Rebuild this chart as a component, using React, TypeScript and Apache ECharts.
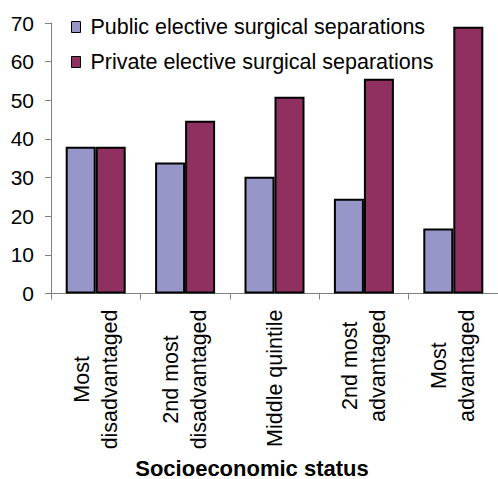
import React, { useEffect, useRef } from "react";
import * as echarts from "echarts";

const categories = [
  "Most\ndisadvantaged",
  "2nd most\ndisadvantaged",
  "Middle quintile",
  "2nd most\nadvantaged",
  "Most\nadvantaged",
];
const publicValues = [38, 33.9, 30.2, 24.5, 16.8];
const privateValues = [38, 44.7, 50.9, 55.6, 69];
const seriesNames = ["Public elective surgical separations", "Private elective surgical separations"];
const yTicks = { min: 0, max: 70, interval: 10 };
const xTitle = "Socioeconomic status";

const FONT = "'Liberation Sans', Arial, sans-serif";

export default function App() {
  const ref = useRef<HTMLDivElement>(null);
  useEffect(() => {
    if (!ref.current) return;
    const chart = echarts.init(ref.current, undefined, { renderer: "svg" });
    chart.setOption({
      animation: false,
      backgroundColor: "#ffffff",
      textStyle: { fontFamily: FONT },
      grid: { left: 51, top: 23, width: 450, height: 270.5 },
      legend: {
        orient: "vertical",
        left: 66,
        top: 11,
        itemGap: 13,
        itemWidth: 9,
        itemHeight: 11,
        icon: "rect",
        data: seriesNames,
        textStyle: { fontSize: 21.5, color: "#000", fontFamily: FONT, padding: [0, 0, 0, 5] },
        itemStyle: { borderColor: "#000", borderWidth: 1 },
      },
      xAxis: {
        type: "category",
        data: categories,
        axisLine: { lineStyle: { color: "#808080", width: 1 } },
        axisTick: { show: true, length: 6, lineStyle: { color: "#808080" } },
        axisLabel: {
          rotate: 90,
          margin: 16,
          interval: 0,
          formatter: (v: string) => v.split("\n").map((s) => `{a|${s}}`).join("\n"),
          rich: {
            a: { align: "center", fontSize: 21.5, lineHeight: 28, color: "#000", fontFamily: FONT },
          },
        },
      },
      yAxis: {
        type: "value",
        min: yTicks.min,
        max: yTicks.max,
        interval: yTicks.interval,
        splitLine: { show: false },
        axisLine: { show: true, lineStyle: { color: "#808080", width: 1 } },
        axisTick: { show: true, length: 6, lineStyle: { color: "#808080" } },
        axisLabel: { fontSize: 21, color: "#000", margin: 17, fontFamily: FONT },
      },
      graphic: [
        {
          type: "text",
          x: 252,
          y: 468,
          style: {
            text: xTitle,
            fontSize: 22,
            fontWeight: "bold",
            fontFamily: FONT,
            fill: "#000",
            align: "center",
            verticalAlign: "middle",
          },
        },
      ],
      series: [
        {
          name: seriesNames[0],
          type: "bar",
          data: publicValues,
          barWidth: 30,
          barGap: "0%",
          itemStyle: { color: "#9696C9", borderColor: "#000", borderWidth: 2 },
        },
        {
          name: seriesNames[1],
          type: "bar",
          data: privateValues,
          barWidth: 30,
          barGap: "0%",
          itemStyle: { color: "#8F3060", borderColor: "#000", borderWidth: 2 },
        },
      ],
    });
    return () => chart.dispose();
  }, []);
  return (
    <div
      ref={ref}
      style={{ position: "absolute", left: 0, top: 0, width: 498, height: 479 }}
    />
  );
}
